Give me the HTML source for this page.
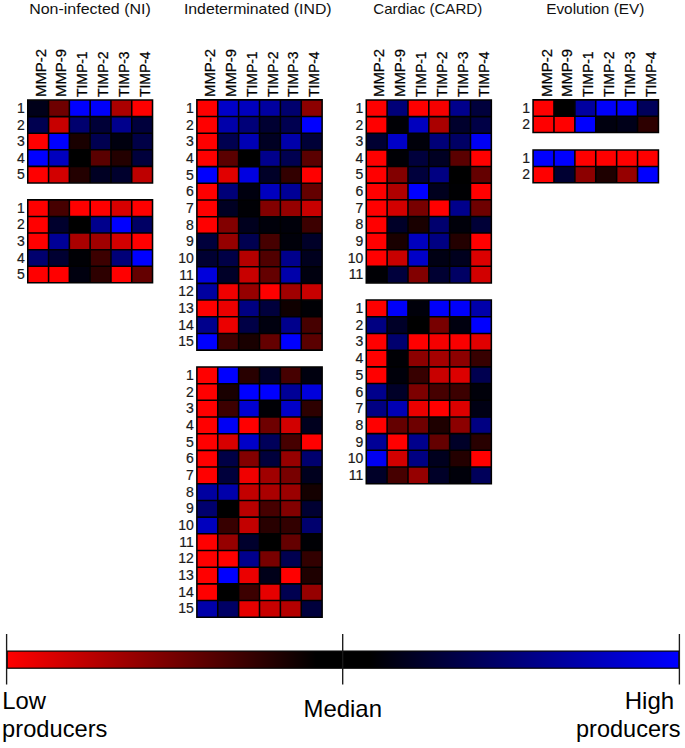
<!DOCTYPE html>
<html><head><meta charset="utf-8"><title>Heatmap</title>
<style>html,body{margin:0;padding:0;background:#fff;}svg{display:block;}</style>
</head><body>
<svg width="685" height="748" viewBox="0 0 685 748" font-family="Liberation Sans, sans-serif">
<rect width="685" height="748" fill="#fff"/>
<rect x="27.77" y="100.08" width="20.79" height="16.57" fill="#000019"/>
<rect x="48.57" y="100.08" width="20.79" height="16.57" fill="#6e0000"/>
<rect x="69.36" y="100.08" width="20.79" height="16.57" fill="#0000ff"/>
<rect x="90.15" y="100.08" width="20.79" height="16.57" fill="#0000fa"/>
<rect x="110.94" y="100.08" width="20.79" height="16.57" fill="#aa0000"/>
<rect x="131.73" y="100.08" width="20.79" height="16.57" fill="#ff0000"/>
<rect x="27.77" y="116.64" width="20.79" height="16.57" fill="#000050"/>
<rect x="48.57" y="116.64" width="20.79" height="16.57" fill="#c80000"/>
<rect x="69.36" y="116.64" width="20.79" height="16.57" fill="#00006e"/>
<rect x="90.15" y="116.64" width="20.79" height="16.57" fill="#000037"/>
<rect x="110.94" y="116.64" width="20.79" height="16.57" fill="#00008c"/>
<rect x="131.73" y="116.64" width="20.79" height="16.57" fill="#00003c"/>
<rect x="27.77" y="133.22" width="20.79" height="16.57" fill="#ff0000"/>
<rect x="48.57" y="133.22" width="20.79" height="16.57" fill="#0000ff"/>
<rect x="69.36" y="133.22" width="20.79" height="16.57" fill="#190000"/>
<rect x="90.15" y="133.22" width="20.79" height="16.57" fill="#000050"/>
<rect x="110.94" y="133.22" width="20.79" height="16.57" fill="#00000f"/>
<rect x="131.73" y="133.22" width="20.79" height="16.57" fill="#000046"/>
<rect x="27.77" y="149.78" width="20.79" height="16.57" fill="#0000ff"/>
<rect x="48.57" y="149.78" width="20.79" height="16.57" fill="#0000be"/>
<rect x="69.36" y="149.78" width="20.79" height="16.57" fill="#000000"/>
<rect x="90.15" y="149.78" width="20.79" height="16.57" fill="#5a0000"/>
<rect x="110.94" y="149.78" width="20.79" height="16.57" fill="#230000"/>
<rect x="131.73" y="149.78" width="20.79" height="16.57" fill="#00003c"/>
<rect x="27.77" y="166.35" width="20.79" height="16.57" fill="#ff0000"/>
<rect x="48.57" y="166.35" width="20.79" height="16.57" fill="#d20000"/>
<rect x="69.36" y="166.35" width="20.79" height="16.57" fill="#230000"/>
<rect x="90.15" y="166.35" width="20.79" height="16.57" fill="#000023"/>
<rect x="110.94" y="166.35" width="20.79" height="16.57" fill="#00002d"/>
<rect x="131.73" y="166.35" width="20.79" height="16.57" fill="#be0000"/>
<path d="M27.77 99.30V183.70M48.57 99.30V183.70M69.36 99.30V183.70M90.15 99.30V183.70M110.94 99.30V183.70M131.73 99.30V183.70M152.53 99.30V183.70M27.00 100.08H153.30M27.00 116.64H153.30M27.00 133.22H153.30M27.00 149.78H153.30M27.00 166.35H153.30M27.00 182.92H153.30" stroke="#000" stroke-width="1.55" fill="none"/>
<text x="24.80" y="112.96" text-anchor="end" font-size="14" font-family="Liberation Sans, sans-serif" fill="#1a1a1a" stroke="#1a1a1a" stroke-width="0.2">1</text>
<text x="24.80" y="129.53" text-anchor="end" font-size="14" font-family="Liberation Sans, sans-serif" fill="#1a1a1a" stroke="#1a1a1a" stroke-width="0.2">2</text>
<text x="24.80" y="146.10" text-anchor="end" font-size="14" font-family="Liberation Sans, sans-serif" fill="#1a1a1a" stroke="#1a1a1a" stroke-width="0.2">3</text>
<text x="24.80" y="162.67" text-anchor="end" font-size="14" font-family="Liberation Sans, sans-serif" fill="#1a1a1a" stroke="#1a1a1a" stroke-width="0.2">4</text>
<text x="24.80" y="179.24" text-anchor="end" font-size="14" font-family="Liberation Sans, sans-serif" fill="#1a1a1a" stroke="#1a1a1a" stroke-width="0.2">5</text>
<rect x="27.77" y="199.88" width="20.79" height="16.59" fill="#ff0000"/>
<rect x="48.57" y="199.88" width="20.79" height="16.59" fill="#460000"/>
<rect x="69.36" y="199.88" width="20.79" height="16.59" fill="#ff0000"/>
<rect x="90.15" y="199.88" width="20.79" height="16.59" fill="#ff0000"/>
<rect x="110.94" y="199.88" width="20.79" height="16.59" fill="#d70000"/>
<rect x="131.73" y="199.88" width="20.79" height="16.59" fill="#ff0000"/>
<rect x="27.77" y="216.47" width="20.79" height="16.59" fill="#ff0000"/>
<rect x="48.57" y="216.47" width="20.79" height="16.59" fill="#00002d"/>
<rect x="69.36" y="216.47" width="20.79" height="16.59" fill="#000000"/>
<rect x="90.15" y="216.47" width="20.79" height="16.59" fill="#00008c"/>
<rect x="110.94" y="216.47" width="20.79" height="16.59" fill="#0000ff"/>
<rect x="131.73" y="216.47" width="20.79" height="16.59" fill="#000064"/>
<rect x="27.77" y="233.06" width="20.79" height="16.59" fill="#ff0000"/>
<rect x="48.57" y="233.06" width="20.79" height="16.59" fill="#000096"/>
<rect x="69.36" y="233.06" width="20.79" height="16.59" fill="#aa0000"/>
<rect x="90.15" y="233.06" width="20.79" height="16.59" fill="#a00000"/>
<rect x="110.94" y="233.06" width="20.79" height="16.59" fill="#d20000"/>
<rect x="131.73" y="233.06" width="20.79" height="16.59" fill="#ff0000"/>
<rect x="27.77" y="249.65" width="20.79" height="16.59" fill="#00006e"/>
<rect x="48.57" y="249.65" width="20.79" height="16.59" fill="#000032"/>
<rect x="69.36" y="249.65" width="20.79" height="16.59" fill="#000005"/>
<rect x="90.15" y="249.65" width="20.79" height="16.59" fill="#3c0000"/>
<rect x="110.94" y="249.65" width="20.79" height="16.59" fill="#000078"/>
<rect x="131.73" y="249.65" width="20.79" height="16.59" fill="#0000ff"/>
<rect x="27.77" y="266.24" width="20.79" height="16.59" fill="#ff0000"/>
<rect x="48.57" y="266.24" width="20.79" height="16.59" fill="#ff0000"/>
<rect x="69.36" y="266.24" width="20.79" height="16.59" fill="#00000f"/>
<rect x="90.15" y="266.24" width="20.79" height="16.59" fill="#2d0000"/>
<rect x="110.94" y="266.24" width="20.79" height="16.59" fill="#ff0000"/>
<rect x="131.73" y="266.24" width="20.79" height="16.59" fill="#640000"/>
<path d="M27.77 199.10V283.60M48.57 199.10V283.60M69.36 199.10V283.60M90.15 199.10V283.60M110.94 199.10V283.60M131.73 199.10V283.60M152.53 199.10V283.60M27.00 199.88H153.30M27.00 216.47H153.30M27.00 233.06H153.30M27.00 249.65H153.30M27.00 266.24H153.30M27.00 282.83H153.30" stroke="#000" stroke-width="1.55" fill="none"/>
<text x="24.80" y="212.77" text-anchor="end" font-size="14" font-family="Liberation Sans, sans-serif" fill="#1a1a1a" stroke="#1a1a1a" stroke-width="0.2">1</text>
<text x="24.80" y="229.36" text-anchor="end" font-size="14" font-family="Liberation Sans, sans-serif" fill="#1a1a1a" stroke="#1a1a1a" stroke-width="0.2">2</text>
<text x="24.80" y="245.95" text-anchor="end" font-size="14" font-family="Liberation Sans, sans-serif" fill="#1a1a1a" stroke="#1a1a1a" stroke-width="0.2">3</text>
<text x="24.80" y="262.54" text-anchor="end" font-size="14" font-family="Liberation Sans, sans-serif" fill="#1a1a1a" stroke="#1a1a1a" stroke-width="0.2">4</text>
<text x="24.80" y="279.13" text-anchor="end" font-size="14" font-family="Liberation Sans, sans-serif" fill="#1a1a1a" stroke="#1a1a1a" stroke-width="0.2">5</text>
<rect x="196.88" y="99.88" width="20.88" height="16.68" fill="#ff0000"/>
<rect x="217.75" y="99.88" width="20.88" height="16.68" fill="#0000c8"/>
<rect x="238.62" y="99.88" width="20.88" height="16.68" fill="#0000be"/>
<rect x="259.50" y="99.88" width="20.88" height="16.68" fill="#0000a0"/>
<rect x="280.38" y="99.88" width="20.88" height="16.68" fill="#00006e"/>
<rect x="301.25" y="99.88" width="20.88" height="16.68" fill="#8c0000"/>
<rect x="196.88" y="116.56" width="20.88" height="16.68" fill="#ff0000"/>
<rect x="217.75" y="116.56" width="20.88" height="16.68" fill="#0000aa"/>
<rect x="238.62" y="116.56" width="20.88" height="16.68" fill="#000078"/>
<rect x="259.50" y="116.56" width="20.88" height="16.68" fill="#000032"/>
<rect x="280.38" y="116.56" width="20.88" height="16.68" fill="#000050"/>
<rect x="301.25" y="116.56" width="20.88" height="16.68" fill="#0000ff"/>
<rect x="196.88" y="133.24" width="20.88" height="16.68" fill="#ff0000"/>
<rect x="217.75" y="133.24" width="20.88" height="16.68" fill="#000050"/>
<rect x="238.62" y="133.24" width="20.88" height="16.68" fill="#0000b4"/>
<rect x="259.50" y="133.24" width="20.88" height="16.68" fill="#000023"/>
<rect x="280.38" y="133.24" width="20.88" height="16.68" fill="#0000aa"/>
<rect x="301.25" y="133.24" width="20.88" height="16.68" fill="#000037"/>
<rect x="196.88" y="149.93" width="20.88" height="16.68" fill="#ff0000"/>
<rect x="217.75" y="149.93" width="20.88" height="16.68" fill="#5a0000"/>
<rect x="238.62" y="149.93" width="20.88" height="16.68" fill="#000000"/>
<rect x="259.50" y="149.93" width="20.88" height="16.68" fill="#00008c"/>
<rect x="280.38" y="149.93" width="20.88" height="16.68" fill="#000050"/>
<rect x="301.25" y="149.93" width="20.88" height="16.68" fill="#5a0000"/>
<rect x="196.88" y="166.61" width="20.88" height="16.68" fill="#0000ff"/>
<rect x="217.75" y="166.61" width="20.88" height="16.68" fill="#e10000"/>
<rect x="238.62" y="166.61" width="20.88" height="16.68" fill="#0000e1"/>
<rect x="259.50" y="166.61" width="20.88" height="16.68" fill="#000028"/>
<rect x="280.38" y="166.61" width="20.88" height="16.68" fill="#320000"/>
<rect x="301.25" y="166.61" width="20.88" height="16.68" fill="#ff0000"/>
<rect x="196.88" y="183.29" width="20.88" height="16.68" fill="#ff0000"/>
<rect x="217.75" y="183.29" width="20.88" height="16.68" fill="#000078"/>
<rect x="238.62" y="183.29" width="20.88" height="16.68" fill="#00000f"/>
<rect x="259.50" y="183.29" width="20.88" height="16.68" fill="#0000be"/>
<rect x="280.38" y="183.29" width="20.88" height="16.68" fill="#000096"/>
<rect x="301.25" y="183.29" width="20.88" height="16.68" fill="#640000"/>
<rect x="196.88" y="199.97" width="20.88" height="16.68" fill="#ff0000"/>
<rect x="217.75" y="199.97" width="20.88" height="16.68" fill="#000023"/>
<rect x="238.62" y="199.97" width="20.88" height="16.68" fill="#000005"/>
<rect x="259.50" y="199.97" width="20.88" height="16.68" fill="#820000"/>
<rect x="280.38" y="199.97" width="20.88" height="16.68" fill="#960000"/>
<rect x="301.25" y="199.97" width="20.88" height="16.68" fill="#c80000"/>
<rect x="196.88" y="216.66" width="20.88" height="16.68" fill="#ff0000"/>
<rect x="217.75" y="216.66" width="20.88" height="16.68" fill="#820000"/>
<rect x="238.62" y="216.66" width="20.88" height="16.68" fill="#00001e"/>
<rect x="259.50" y="216.66" width="20.88" height="16.68" fill="#00000a"/>
<rect x="280.38" y="216.66" width="20.88" height="16.68" fill="#00000a"/>
<rect x="301.25" y="216.66" width="20.88" height="16.68" fill="#3c0000"/>
<rect x="196.88" y="233.34" width="20.88" height="16.68" fill="#00003c"/>
<rect x="217.75" y="233.34" width="20.88" height="16.68" fill="#960000"/>
<rect x="238.62" y="233.34" width="20.88" height="16.68" fill="#000050"/>
<rect x="259.50" y="233.34" width="20.88" height="16.68" fill="#460000"/>
<rect x="280.38" y="233.34" width="20.88" height="16.68" fill="#00000a"/>
<rect x="301.25" y="233.34" width="20.88" height="16.68" fill="#000028"/>
<rect x="196.88" y="250.03" width="20.88" height="16.68" fill="#000032"/>
<rect x="217.75" y="250.03" width="20.88" height="16.68" fill="#000046"/>
<rect x="238.62" y="250.03" width="20.88" height="16.68" fill="#b40000"/>
<rect x="259.50" y="250.03" width="20.88" height="16.68" fill="#500000"/>
<rect x="280.38" y="250.03" width="20.88" height="16.68" fill="#00008c"/>
<rect x="301.25" y="250.03" width="20.88" height="16.68" fill="#00001e"/>
<rect x="196.88" y="266.71" width="20.88" height="16.68" fill="#0000dc"/>
<rect x="217.75" y="266.71" width="20.88" height="16.68" fill="#000028"/>
<rect x="238.62" y="266.71" width="20.88" height="16.68" fill="#c80000"/>
<rect x="259.50" y="266.71" width="20.88" height="16.68" fill="#640000"/>
<rect x="280.38" y="266.71" width="20.88" height="16.68" fill="#0000aa"/>
<rect x="301.25" y="266.71" width="20.88" height="16.68" fill="#00000f"/>
<rect x="196.88" y="283.39" width="20.88" height="16.68" fill="#0000a0"/>
<rect x="217.75" y="283.39" width="20.88" height="16.68" fill="#f00000"/>
<rect x="238.62" y="283.39" width="20.88" height="16.68" fill="#960000"/>
<rect x="259.50" y="283.39" width="20.88" height="16.68" fill="#ff0000"/>
<rect x="280.38" y="283.39" width="20.88" height="16.68" fill="#a00000"/>
<rect x="301.25" y="283.39" width="20.88" height="16.68" fill="#c80000"/>
<rect x="196.88" y="300.07" width="20.88" height="16.68" fill="#ff0000"/>
<rect x="217.75" y="300.07" width="20.88" height="16.68" fill="#eb0000"/>
<rect x="238.62" y="300.07" width="20.88" height="16.68" fill="#000082"/>
<rect x="259.50" y="300.07" width="20.88" height="16.68" fill="#00003c"/>
<rect x="280.38" y="300.07" width="20.88" height="16.68" fill="#0f0000"/>
<rect x="301.25" y="300.07" width="20.88" height="16.68" fill="#000005"/>
<rect x="196.88" y="316.76" width="20.88" height="16.68" fill="#00008c"/>
<rect x="217.75" y="316.76" width="20.88" height="16.68" fill="#eb0000"/>
<rect x="238.62" y="316.76" width="20.88" height="16.68" fill="#000046"/>
<rect x="259.50" y="316.76" width="20.88" height="16.68" fill="#00000f"/>
<rect x="280.38" y="316.76" width="20.88" height="16.68" fill="#00008c"/>
<rect x="301.25" y="316.76" width="20.88" height="16.68" fill="#460000"/>
<rect x="196.88" y="333.44" width="20.88" height="16.68" fill="#0000ff"/>
<rect x="217.75" y="333.44" width="20.88" height="16.68" fill="#3c0000"/>
<rect x="238.62" y="333.44" width="20.88" height="16.68" fill="#190000"/>
<rect x="259.50" y="333.44" width="20.88" height="16.68" fill="#640000"/>
<rect x="280.38" y="333.44" width="20.88" height="16.68" fill="#0000ff"/>
<rect x="301.25" y="333.44" width="20.88" height="16.68" fill="#5a0000"/>
<path d="M196.88 99.10V350.90M217.75 99.10V350.90M238.62 99.10V350.90M259.50 99.10V350.90M280.38 99.10V350.90M301.25 99.10V350.90M322.12 99.10V350.90M196.10 99.88H322.90M196.10 116.56H322.90M196.10 133.24H322.90M196.10 149.93H322.90M196.10 166.61H322.90M196.10 183.29H322.90M196.10 199.97H322.90M196.10 216.66H322.90M196.10 233.34H322.90M196.10 250.03H322.90M196.10 266.71H322.90M196.10 283.39H322.90M196.10 300.07H322.90M196.10 316.76H322.90M196.10 333.44H322.90M196.10 350.12H322.90" stroke="#000" stroke-width="1.55" fill="none"/>
<text x="193.90" y="112.82" text-anchor="end" font-size="14" font-family="Liberation Sans, sans-serif" fill="#1a1a1a" stroke="#1a1a1a" stroke-width="0.2">1</text>
<text x="193.90" y="129.50" text-anchor="end" font-size="14" font-family="Liberation Sans, sans-serif" fill="#1a1a1a" stroke="#1a1a1a" stroke-width="0.2">2</text>
<text x="193.90" y="146.18" text-anchor="end" font-size="14" font-family="Liberation Sans, sans-serif" fill="#1a1a1a" stroke="#1a1a1a" stroke-width="0.2">3</text>
<text x="193.90" y="162.87" text-anchor="end" font-size="14" font-family="Liberation Sans, sans-serif" fill="#1a1a1a" stroke="#1a1a1a" stroke-width="0.2">4</text>
<text x="193.90" y="179.55" text-anchor="end" font-size="14" font-family="Liberation Sans, sans-serif" fill="#1a1a1a" stroke="#1a1a1a" stroke-width="0.2">5</text>
<text x="193.90" y="196.23" text-anchor="end" font-size="14" font-family="Liberation Sans, sans-serif" fill="#1a1a1a" stroke="#1a1a1a" stroke-width="0.2">6</text>
<text x="193.90" y="212.92" text-anchor="end" font-size="14" font-family="Liberation Sans, sans-serif" fill="#1a1a1a" stroke="#1a1a1a" stroke-width="0.2">7</text>
<text x="193.90" y="229.60" text-anchor="end" font-size="14" font-family="Liberation Sans, sans-serif" fill="#1a1a1a" stroke="#1a1a1a" stroke-width="0.2">8</text>
<text x="193.90" y="246.28" text-anchor="end" font-size="14" font-family="Liberation Sans, sans-serif" fill="#1a1a1a" stroke="#1a1a1a" stroke-width="0.2">9</text>
<text x="193.90" y="262.97" text-anchor="end" font-size="14" font-family="Liberation Sans, sans-serif" fill="#1a1a1a" stroke="#1a1a1a" stroke-width="0.2">10</text>
<text x="193.90" y="279.65" text-anchor="end" font-size="14" font-family="Liberation Sans, sans-serif" fill="#1a1a1a" stroke="#1a1a1a" stroke-width="0.2">11</text>
<text x="193.90" y="296.33" text-anchor="end" font-size="14" font-family="Liberation Sans, sans-serif" fill="#1a1a1a" stroke="#1a1a1a" stroke-width="0.2">12</text>
<text x="193.90" y="313.02" text-anchor="end" font-size="14" font-family="Liberation Sans, sans-serif" fill="#1a1a1a" stroke="#1a1a1a" stroke-width="0.2">13</text>
<text x="193.90" y="329.70" text-anchor="end" font-size="14" font-family="Liberation Sans, sans-serif" fill="#1a1a1a" stroke="#1a1a1a" stroke-width="0.2">14</text>
<text x="193.90" y="346.38" text-anchor="end" font-size="14" font-family="Liberation Sans, sans-serif" fill="#1a1a1a" stroke="#1a1a1a" stroke-width="0.2">15</text>
<rect x="196.88" y="366.97" width="20.88" height="16.68" fill="#ff0000"/>
<rect x="217.75" y="366.97" width="20.88" height="16.68" fill="#0000ff"/>
<rect x="238.62" y="366.97" width="20.88" height="16.68" fill="#280000"/>
<rect x="259.50" y="366.97" width="20.88" height="16.68" fill="#000028"/>
<rect x="280.38" y="366.97" width="20.88" height="16.68" fill="#460000"/>
<rect x="301.25" y="366.97" width="20.88" height="16.68" fill="#00000f"/>
<rect x="196.88" y="383.66" width="20.88" height="16.68" fill="#ff0000"/>
<rect x="217.75" y="383.66" width="20.88" height="16.68" fill="#190000"/>
<rect x="238.62" y="383.66" width="20.88" height="16.68" fill="#0000ff"/>
<rect x="259.50" y="383.66" width="20.88" height="16.68" fill="#0000ff"/>
<rect x="280.38" y="383.66" width="20.88" height="16.68" fill="#000096"/>
<rect x="301.25" y="383.66" width="20.88" height="16.68" fill="#0000dc"/>
<rect x="196.88" y="400.34" width="20.88" height="16.68" fill="#ff0000"/>
<rect x="217.75" y="400.34" width="20.88" height="16.68" fill="#3c0000"/>
<rect x="238.62" y="400.34" width="20.88" height="16.68" fill="#0000d2"/>
<rect x="259.50" y="400.34" width="20.88" height="16.68" fill="#000005"/>
<rect x="280.38" y="400.34" width="20.88" height="16.68" fill="#0000c8"/>
<rect x="301.25" y="400.34" width="20.88" height="16.68" fill="#2d0000"/>
<rect x="196.88" y="417.02" width="20.88" height="16.68" fill="#ff0000"/>
<rect x="217.75" y="417.02" width="20.88" height="16.68" fill="#0000f5"/>
<rect x="238.62" y="417.02" width="20.88" height="16.68" fill="#ff0000"/>
<rect x="259.50" y="417.02" width="20.88" height="16.68" fill="#6e0000"/>
<rect x="280.38" y="417.02" width="20.88" height="16.68" fill="#d20000"/>
<rect x="301.25" y="417.02" width="20.88" height="16.68" fill="#00001e"/>
<rect x="196.88" y="433.71" width="20.88" height="16.68" fill="#ff0000"/>
<rect x="217.75" y="433.71" width="20.88" height="16.68" fill="#d70000"/>
<rect x="238.62" y="433.71" width="20.88" height="16.68" fill="#0000c8"/>
<rect x="259.50" y="433.71" width="20.88" height="16.68" fill="#00005a"/>
<rect x="280.38" y="433.71" width="20.88" height="16.68" fill="#460000"/>
<rect x="301.25" y="433.71" width="20.88" height="16.68" fill="#ff0000"/>
<rect x="196.88" y="450.39" width="20.88" height="16.68" fill="#ff0000"/>
<rect x="217.75" y="450.39" width="20.88" height="16.68" fill="#000046"/>
<rect x="238.62" y="450.39" width="20.88" height="16.68" fill="#820000"/>
<rect x="259.50" y="450.39" width="20.88" height="16.68" fill="#00003c"/>
<rect x="280.38" y="450.39" width="20.88" height="16.68" fill="#960000"/>
<rect x="301.25" y="450.39" width="20.88" height="16.68" fill="#00006e"/>
<rect x="196.88" y="467.07" width="20.88" height="16.68" fill="#ff0000"/>
<rect x="217.75" y="467.07" width="20.88" height="16.68" fill="#00003c"/>
<rect x="238.62" y="467.07" width="20.88" height="16.68" fill="#f00000"/>
<rect x="259.50" y="467.07" width="20.88" height="16.68" fill="#a00000"/>
<rect x="280.38" y="467.07" width="20.88" height="16.68" fill="#780000"/>
<rect x="301.25" y="467.07" width="20.88" height="16.68" fill="#00001e"/>
<rect x="196.88" y="483.76" width="20.88" height="16.68" fill="#0000a0"/>
<rect x="217.75" y="483.76" width="20.88" height="16.68" fill="#0000aa"/>
<rect x="238.62" y="483.76" width="20.88" height="16.68" fill="#c30000"/>
<rect x="259.50" y="483.76" width="20.88" height="16.68" fill="#aa0000"/>
<rect x="280.38" y="483.76" width="20.88" height="16.68" fill="#9b0000"/>
<rect x="301.25" y="483.76" width="20.88" height="16.68" fill="#140000"/>
<rect x="196.88" y="500.44" width="20.88" height="16.68" fill="#00006e"/>
<rect x="217.75" y="500.44" width="20.88" height="16.68" fill="#000000"/>
<rect x="238.62" y="500.44" width="20.88" height="16.68" fill="#b90000"/>
<rect x="259.50" y="500.44" width="20.88" height="16.68" fill="#460000"/>
<rect x="280.38" y="500.44" width="20.88" height="16.68" fill="#820000"/>
<rect x="301.25" y="500.44" width="20.88" height="16.68" fill="#000032"/>
<rect x="196.88" y="517.12" width="20.88" height="16.68" fill="#0000be"/>
<rect x="217.75" y="517.12" width="20.88" height="16.68" fill="#370000"/>
<rect x="238.62" y="517.12" width="20.88" height="16.68" fill="#c30000"/>
<rect x="259.50" y="517.12" width="20.88" height="16.68" fill="#280000"/>
<rect x="280.38" y="517.12" width="20.88" height="16.68" fill="#320000"/>
<rect x="301.25" y="517.12" width="20.88" height="16.68" fill="#00006e"/>
<rect x="196.88" y="533.81" width="20.88" height="16.68" fill="#ff0000"/>
<rect x="217.75" y="533.81" width="20.88" height="16.68" fill="#960000"/>
<rect x="238.62" y="533.81" width="20.88" height="16.68" fill="#00002d"/>
<rect x="259.50" y="533.81" width="20.88" height="16.68" fill="#000000"/>
<rect x="280.38" y="533.81" width="20.88" height="16.68" fill="#640000"/>
<rect x="301.25" y="533.81" width="20.88" height="16.68" fill="#000005"/>
<rect x="196.88" y="550.49" width="20.88" height="16.68" fill="#ff0000"/>
<rect x="217.75" y="550.49" width="20.88" height="16.68" fill="#ff0000"/>
<rect x="238.62" y="550.49" width="20.88" height="16.68" fill="#00008c"/>
<rect x="259.50" y="550.49" width="20.88" height="16.68" fill="#780000"/>
<rect x="280.38" y="550.49" width="20.88" height="16.68" fill="#000050"/>
<rect x="301.25" y="550.49" width="20.88" height="16.68" fill="#320000"/>
<rect x="196.88" y="567.17" width="20.88" height="16.68" fill="#ff0000"/>
<rect x="217.75" y="567.17" width="20.88" height="16.68" fill="#0000ff"/>
<rect x="238.62" y="567.17" width="20.88" height="16.68" fill="#eb0000"/>
<rect x="259.50" y="567.17" width="20.88" height="16.68" fill="#000019"/>
<rect x="280.38" y="567.17" width="20.88" height="16.68" fill="#ff0000"/>
<rect x="301.25" y="567.17" width="20.88" height="16.68" fill="#1e0000"/>
<rect x="196.88" y="583.86" width="20.88" height="16.68" fill="#ff0000"/>
<rect x="217.75" y="583.86" width="20.88" height="16.68" fill="#000000"/>
<rect x="238.62" y="583.86" width="20.88" height="16.68" fill="#3c0000"/>
<rect x="259.50" y="583.86" width="20.88" height="16.68" fill="#e60000"/>
<rect x="280.38" y="583.86" width="20.88" height="16.68" fill="#000050"/>
<rect x="301.25" y="583.86" width="20.88" height="16.68" fill="#960000"/>
<rect x="196.88" y="600.54" width="20.88" height="16.68" fill="#0000aa"/>
<rect x="217.75" y="600.54" width="20.88" height="16.68" fill="#000064"/>
<rect x="238.62" y="600.54" width="20.88" height="16.68" fill="#e60000"/>
<rect x="259.50" y="600.54" width="20.88" height="16.68" fill="#c80000"/>
<rect x="280.38" y="600.54" width="20.88" height="16.68" fill="#b40000"/>
<rect x="301.25" y="600.54" width="20.88" height="16.68" fill="#00003c"/>
<path d="M196.88 366.20V618.00M217.75 366.20V618.00M238.62 366.20V618.00M259.50 366.20V618.00M280.38 366.20V618.00M301.25 366.20V618.00M322.12 366.20V618.00M196.10 366.97H322.90M196.10 383.66H322.90M196.10 400.34H322.90M196.10 417.02H322.90M196.10 433.71H322.90M196.10 450.39H322.90M196.10 467.07H322.90M196.10 483.76H322.90M196.10 500.44H322.90M196.10 517.12H322.90M196.10 533.81H322.90M196.10 550.49H322.90M196.10 567.17H322.90M196.10 583.86H322.90M196.10 600.54H322.90M196.10 617.23H322.90" stroke="#000" stroke-width="1.55" fill="none"/>
<text x="193.90" y="379.92" text-anchor="end" font-size="14" font-family="Liberation Sans, sans-serif" fill="#1a1a1a" stroke="#1a1a1a" stroke-width="0.2">1</text>
<text x="193.90" y="396.60" text-anchor="end" font-size="14" font-family="Liberation Sans, sans-serif" fill="#1a1a1a" stroke="#1a1a1a" stroke-width="0.2">2</text>
<text x="193.90" y="413.28" text-anchor="end" font-size="14" font-family="Liberation Sans, sans-serif" fill="#1a1a1a" stroke="#1a1a1a" stroke-width="0.2">3</text>
<text x="193.90" y="429.97" text-anchor="end" font-size="14" font-family="Liberation Sans, sans-serif" fill="#1a1a1a" stroke="#1a1a1a" stroke-width="0.2">4</text>
<text x="193.90" y="446.65" text-anchor="end" font-size="14" font-family="Liberation Sans, sans-serif" fill="#1a1a1a" stroke="#1a1a1a" stroke-width="0.2">5</text>
<text x="193.90" y="463.33" text-anchor="end" font-size="14" font-family="Liberation Sans, sans-serif" fill="#1a1a1a" stroke="#1a1a1a" stroke-width="0.2">6</text>
<text x="193.90" y="480.02" text-anchor="end" font-size="14" font-family="Liberation Sans, sans-serif" fill="#1a1a1a" stroke="#1a1a1a" stroke-width="0.2">7</text>
<text x="193.90" y="496.70" text-anchor="end" font-size="14" font-family="Liberation Sans, sans-serif" fill="#1a1a1a" stroke="#1a1a1a" stroke-width="0.2">8</text>
<text x="193.90" y="513.38" text-anchor="end" font-size="14" font-family="Liberation Sans, sans-serif" fill="#1a1a1a" stroke="#1a1a1a" stroke-width="0.2">9</text>
<text x="193.90" y="530.07" text-anchor="end" font-size="14" font-family="Liberation Sans, sans-serif" fill="#1a1a1a" stroke="#1a1a1a" stroke-width="0.2">10</text>
<text x="193.90" y="546.75" text-anchor="end" font-size="14" font-family="Liberation Sans, sans-serif" fill="#1a1a1a" stroke="#1a1a1a" stroke-width="0.2">11</text>
<text x="193.90" y="563.43" text-anchor="end" font-size="14" font-family="Liberation Sans, sans-serif" fill="#1a1a1a" stroke="#1a1a1a" stroke-width="0.2">12</text>
<text x="193.90" y="580.12" text-anchor="end" font-size="14" font-family="Liberation Sans, sans-serif" fill="#1a1a1a" stroke="#1a1a1a" stroke-width="0.2">13</text>
<text x="193.90" y="596.80" text-anchor="end" font-size="14" font-family="Liberation Sans, sans-serif" fill="#1a1a1a" stroke="#1a1a1a" stroke-width="0.2">14</text>
<text x="193.90" y="613.48" text-anchor="end" font-size="14" font-family="Liberation Sans, sans-serif" fill="#1a1a1a" stroke="#1a1a1a" stroke-width="0.2">15</text>
<rect x="366.27" y="99.98" width="20.84" height="16.63" fill="#ff0000"/>
<rect x="387.12" y="99.98" width="20.84" height="16.63" fill="#000078"/>
<rect x="407.96" y="99.98" width="20.84" height="16.63" fill="#ff0000"/>
<rect x="428.80" y="99.98" width="20.84" height="16.63" fill="#f50000"/>
<rect x="449.64" y="99.98" width="20.84" height="16.63" fill="#00008c"/>
<rect x="470.48" y="99.98" width="20.84" height="16.63" fill="#00003c"/>
<rect x="366.27" y="116.61" width="20.84" height="16.63" fill="#ff0000"/>
<rect x="387.12" y="116.61" width="20.84" height="16.63" fill="#000005"/>
<rect x="407.96" y="116.61" width="20.84" height="16.63" fill="#0000be"/>
<rect x="428.80" y="116.61" width="20.84" height="16.63" fill="#aa0000"/>
<rect x="449.64" y="116.61" width="20.84" height="16.63" fill="#00002d"/>
<rect x="470.48" y="116.61" width="20.84" height="16.63" fill="#000046"/>
<rect x="366.27" y="133.24" width="20.84" height="16.63" fill="#000032"/>
<rect x="387.12" y="133.24" width="20.84" height="16.63" fill="#0000c8"/>
<rect x="407.96" y="133.24" width="20.84" height="16.63" fill="#00000a"/>
<rect x="428.80" y="133.24" width="20.84" height="16.63" fill="#000078"/>
<rect x="449.64" y="133.24" width="20.84" height="16.63" fill="#000064"/>
<rect x="470.48" y="133.24" width="20.84" height="16.63" fill="#0000f5"/>
<rect x="366.27" y="149.87" width="20.84" height="16.63" fill="#ff0000"/>
<rect x="387.12" y="149.87" width="20.84" height="16.63" fill="#000005"/>
<rect x="407.96" y="149.87" width="20.84" height="16.63" fill="#00003c"/>
<rect x="428.80" y="149.87" width="20.84" height="16.63" fill="#000023"/>
<rect x="449.64" y="149.87" width="20.84" height="16.63" fill="#5a0000"/>
<rect x="470.48" y="149.87" width="20.84" height="16.63" fill="#ff0000"/>
<rect x="366.27" y="166.50" width="20.84" height="16.63" fill="#ff0000"/>
<rect x="387.12" y="166.50" width="20.84" height="16.63" fill="#820000"/>
<rect x="407.96" y="166.50" width="20.84" height="16.63" fill="#00003c"/>
<rect x="428.80" y="166.50" width="20.84" height="16.63" fill="#000082"/>
<rect x="449.64" y="166.50" width="20.84" height="16.63" fill="#000000"/>
<rect x="470.48" y="166.50" width="20.84" height="16.63" fill="#640000"/>
<rect x="366.27" y="183.13" width="20.84" height="16.63" fill="#ff0000"/>
<rect x="387.12" y="183.13" width="20.84" height="16.63" fill="#af0000"/>
<rect x="407.96" y="183.13" width="20.84" height="16.63" fill="#0000ff"/>
<rect x="428.80" y="183.13" width="20.84" height="16.63" fill="#00001e"/>
<rect x="449.64" y="183.13" width="20.84" height="16.63" fill="#000003"/>
<rect x="470.48" y="183.13" width="20.84" height="16.63" fill="#ff0000"/>
<rect x="366.27" y="199.77" width="20.84" height="16.63" fill="#ff0000"/>
<rect x="387.12" y="199.77" width="20.84" height="16.63" fill="#d20000"/>
<rect x="407.96" y="199.77" width="20.84" height="16.63" fill="#780000"/>
<rect x="428.80" y="199.77" width="20.84" height="16.63" fill="#ff0000"/>
<rect x="449.64" y="199.77" width="20.84" height="16.63" fill="#00008c"/>
<rect x="470.48" y="199.77" width="20.84" height="16.63" fill="#6e0000"/>
<rect x="366.27" y="216.40" width="20.84" height="16.63" fill="#ff0000"/>
<rect x="387.12" y="216.40" width="20.84" height="16.63" fill="#000028"/>
<rect x="407.96" y="216.40" width="20.84" height="16.63" fill="#190000"/>
<rect x="428.80" y="216.40" width="20.84" height="16.63" fill="#00006e"/>
<rect x="449.64" y="216.40" width="20.84" height="16.63" fill="#00000a"/>
<rect x="470.48" y="216.40" width="20.84" height="16.63" fill="#000037"/>
<rect x="366.27" y="233.03" width="20.84" height="16.63" fill="#ff0000"/>
<rect x="387.12" y="233.03" width="20.84" height="16.63" fill="#190000"/>
<rect x="407.96" y="233.03" width="20.84" height="16.63" fill="#0000be"/>
<rect x="428.80" y="233.03" width="20.84" height="16.63" fill="#000082"/>
<rect x="449.64" y="233.03" width="20.84" height="16.63" fill="#230000"/>
<rect x="470.48" y="233.03" width="20.84" height="16.63" fill="#ff0000"/>
<rect x="366.27" y="249.66" width="20.84" height="16.63" fill="#ff0000"/>
<rect x="387.12" y="249.66" width="20.84" height="16.63" fill="#c80000"/>
<rect x="407.96" y="249.66" width="20.84" height="16.63" fill="#0000c8"/>
<rect x="428.80" y="249.66" width="20.84" height="16.63" fill="#000014"/>
<rect x="449.64" y="249.66" width="20.84" height="16.63" fill="#00001e"/>
<rect x="470.48" y="249.66" width="20.84" height="16.63" fill="#dc0000"/>
<rect x="366.27" y="266.29" width="20.84" height="16.63" fill="#000005"/>
<rect x="387.12" y="266.29" width="20.84" height="16.63" fill="#00003c"/>
<rect x="407.96" y="266.29" width="20.84" height="16.63" fill="#820000"/>
<rect x="428.80" y="266.29" width="20.84" height="16.63" fill="#000032"/>
<rect x="449.64" y="266.29" width="20.84" height="16.63" fill="#000064"/>
<rect x="470.48" y="266.29" width="20.84" height="16.63" fill="#d20000"/>
<path d="M366.27 99.20V283.70M387.12 99.20V283.70M407.96 99.20V283.70M428.80 99.20V283.70M449.64 99.20V283.70M470.48 99.20V283.70M491.33 99.20V283.70M365.50 99.98H492.10M365.50 116.61H492.10M365.50 133.24H492.10M365.50 149.87H492.10M365.50 166.50H492.10M365.50 183.13H492.10M365.50 199.77H492.10M365.50 216.40H492.10M365.50 233.03H492.10M365.50 249.66H492.10M365.50 266.29H492.10M365.50 282.92H492.10" stroke="#000" stroke-width="1.55" fill="none"/>
<text x="363.30" y="112.89" text-anchor="end" font-size="14" font-family="Liberation Sans, sans-serif" fill="#1a1a1a" stroke="#1a1a1a" stroke-width="0.2">1</text>
<text x="363.30" y="129.52" text-anchor="end" font-size="14" font-family="Liberation Sans, sans-serif" fill="#1a1a1a" stroke="#1a1a1a" stroke-width="0.2">2</text>
<text x="363.30" y="146.15" text-anchor="end" font-size="14" font-family="Liberation Sans, sans-serif" fill="#1a1a1a" stroke="#1a1a1a" stroke-width="0.2">3</text>
<text x="363.30" y="162.79" text-anchor="end" font-size="14" font-family="Liberation Sans, sans-serif" fill="#1a1a1a" stroke="#1a1a1a" stroke-width="0.2">4</text>
<text x="363.30" y="179.42" text-anchor="end" font-size="14" font-family="Liberation Sans, sans-serif" fill="#1a1a1a" stroke="#1a1a1a" stroke-width="0.2">5</text>
<text x="363.30" y="196.05" text-anchor="end" font-size="14" font-family="Liberation Sans, sans-serif" fill="#1a1a1a" stroke="#1a1a1a" stroke-width="0.2">6</text>
<text x="363.30" y="212.68" text-anchor="end" font-size="14" font-family="Liberation Sans, sans-serif" fill="#1a1a1a" stroke="#1a1a1a" stroke-width="0.2">7</text>
<text x="363.30" y="229.31" text-anchor="end" font-size="14" font-family="Liberation Sans, sans-serif" fill="#1a1a1a" stroke="#1a1a1a" stroke-width="0.2">8</text>
<text x="363.30" y="245.95" text-anchor="end" font-size="14" font-family="Liberation Sans, sans-serif" fill="#1a1a1a" stroke="#1a1a1a" stroke-width="0.2">9</text>
<text x="363.30" y="262.58" text-anchor="end" font-size="14" font-family="Liberation Sans, sans-serif" fill="#1a1a1a" stroke="#1a1a1a" stroke-width="0.2">10</text>
<text x="363.30" y="279.21" text-anchor="end" font-size="14" font-family="Liberation Sans, sans-serif" fill="#1a1a1a" stroke="#1a1a1a" stroke-width="0.2">11</text>
<rect x="366.27" y="300.07" width="20.84" height="16.70" fill="#ff0000"/>
<rect x="387.12" y="300.07" width="20.84" height="16.70" fill="#0000fa"/>
<rect x="407.96" y="300.07" width="20.84" height="16.70" fill="#00000a"/>
<rect x="428.80" y="300.07" width="20.84" height="16.70" fill="#0000fa"/>
<rect x="449.64" y="300.07" width="20.84" height="16.70" fill="#0000fa"/>
<rect x="470.48" y="300.07" width="20.84" height="16.70" fill="#0000aa"/>
<rect x="366.27" y="316.77" width="20.84" height="16.70" fill="#000082"/>
<rect x="387.12" y="316.77" width="20.84" height="16.70" fill="#000028"/>
<rect x="407.96" y="316.77" width="20.84" height="16.70" fill="#000000"/>
<rect x="428.80" y="316.77" width="20.84" height="16.70" fill="#780000"/>
<rect x="449.64" y="316.77" width="20.84" height="16.70" fill="#00000f"/>
<rect x="470.48" y="316.77" width="20.84" height="16.70" fill="#0000ff"/>
<rect x="366.27" y="333.47" width="20.84" height="16.70" fill="#ff0000"/>
<rect x="387.12" y="333.47" width="20.84" height="16.70" fill="#00006e"/>
<rect x="407.96" y="333.47" width="20.84" height="16.70" fill="#ff0000"/>
<rect x="428.80" y="333.47" width="20.84" height="16.70" fill="#f50000"/>
<rect x="449.64" y="333.47" width="20.84" height="16.70" fill="#fa0000"/>
<rect x="470.48" y="333.47" width="20.84" height="16.70" fill="#e10000"/>
<rect x="366.27" y="350.16" width="20.84" height="16.70" fill="#ff0000"/>
<rect x="387.12" y="350.16" width="20.84" height="16.70" fill="#000005"/>
<rect x="407.96" y="350.16" width="20.84" height="16.70" fill="#8c0000"/>
<rect x="428.80" y="350.16" width="20.84" height="16.70" fill="#a50000"/>
<rect x="449.64" y="350.16" width="20.84" height="16.70" fill="#8c0000"/>
<rect x="470.48" y="350.16" width="20.84" height="16.70" fill="#370000"/>
<rect x="366.27" y="366.86" width="20.84" height="16.70" fill="#ff0000"/>
<rect x="387.12" y="366.86" width="20.84" height="16.70" fill="#00000a"/>
<rect x="407.96" y="366.86" width="20.84" height="16.70" fill="#370000"/>
<rect x="428.80" y="366.86" width="20.84" height="16.70" fill="#c80000"/>
<rect x="449.64" y="366.86" width="20.84" height="16.70" fill="#dc0000"/>
<rect x="470.48" y="366.86" width="20.84" height="16.70" fill="#000050"/>
<rect x="366.27" y="383.55" width="20.84" height="16.70" fill="#00008c"/>
<rect x="387.12" y="383.55" width="20.84" height="16.70" fill="#000028"/>
<rect x="407.96" y="383.55" width="20.84" height="16.70" fill="#7d0000"/>
<rect x="428.80" y="383.55" width="20.84" height="16.70" fill="#460000"/>
<rect x="449.64" y="383.55" width="20.84" height="16.70" fill="#3c0000"/>
<rect x="470.48" y="383.55" width="20.84" height="16.70" fill="#00000a"/>
<rect x="366.27" y="400.25" width="20.84" height="16.70" fill="#000082"/>
<rect x="387.12" y="400.25" width="20.84" height="16.70" fill="#0000b4"/>
<rect x="407.96" y="400.25" width="20.84" height="16.70" fill="#eb0000"/>
<rect x="428.80" y="400.25" width="20.84" height="16.70" fill="#ff0000"/>
<rect x="449.64" y="400.25" width="20.84" height="16.70" fill="#dc0000"/>
<rect x="470.48" y="400.25" width="20.84" height="16.70" fill="#000014"/>
<rect x="366.27" y="416.94" width="20.84" height="16.70" fill="#ff0000"/>
<rect x="387.12" y="416.94" width="20.84" height="16.70" fill="#640000"/>
<rect x="407.96" y="416.94" width="20.84" height="16.70" fill="#6e0000"/>
<rect x="428.80" y="416.94" width="20.84" height="16.70" fill="#1e0000"/>
<rect x="449.64" y="416.94" width="20.84" height="16.70" fill="#8c0000"/>
<rect x="470.48" y="416.94" width="20.84" height="16.70" fill="#000082"/>
<rect x="366.27" y="433.64" width="20.84" height="16.70" fill="#000096"/>
<rect x="387.12" y="433.64" width="20.84" height="16.70" fill="#ff0000"/>
<rect x="407.96" y="433.64" width="20.84" height="16.70" fill="#00008c"/>
<rect x="428.80" y="433.64" width="20.84" height="16.70" fill="#640000"/>
<rect x="449.64" y="433.64" width="20.84" height="16.70" fill="#000028"/>
<rect x="470.48" y="433.64" width="20.84" height="16.70" fill="#280000"/>
<rect x="366.27" y="450.33" width="20.84" height="16.70" fill="#0000f0"/>
<rect x="387.12" y="450.33" width="20.84" height="16.70" fill="#d20000"/>
<rect x="407.96" y="450.33" width="20.84" height="16.70" fill="#000082"/>
<rect x="428.80" y="450.33" width="20.84" height="16.70" fill="#00001e"/>
<rect x="449.64" y="450.33" width="20.84" height="16.70" fill="#230000"/>
<rect x="470.48" y="450.33" width="20.84" height="16.70" fill="#ff0000"/>
<rect x="366.27" y="467.03" width="20.84" height="16.70" fill="#000028"/>
<rect x="387.12" y="467.03" width="20.84" height="16.70" fill="#460000"/>
<rect x="407.96" y="467.03" width="20.84" height="16.70" fill="#960000"/>
<rect x="428.80" y="467.03" width="20.84" height="16.70" fill="#000028"/>
<rect x="449.64" y="467.03" width="20.84" height="16.70" fill="#00000a"/>
<rect x="470.48" y="467.03" width="20.84" height="16.70" fill="#00005a"/>
<path d="M366.27 299.30V484.50M387.12 299.30V484.50M407.96 299.30V484.50M428.80 299.30V484.50M449.64 299.30V484.50M470.48 299.30V484.50M491.33 299.30V484.50M365.50 300.07H492.10M365.50 316.77H492.10M365.50 333.47H492.10M365.50 350.16H492.10M365.50 366.86H492.10M365.50 383.55H492.10M365.50 400.25H492.10M365.50 416.94H492.10M365.50 433.64H492.10M365.50 450.33H492.10M365.50 467.03H492.10M365.50 483.73H492.10" stroke="#000" stroke-width="1.55" fill="none"/>
<text x="363.30" y="313.02" text-anchor="end" font-size="14" font-family="Liberation Sans, sans-serif" fill="#1a1a1a" stroke="#1a1a1a" stroke-width="0.2">1</text>
<text x="363.30" y="329.72" text-anchor="end" font-size="14" font-family="Liberation Sans, sans-serif" fill="#1a1a1a" stroke="#1a1a1a" stroke-width="0.2">2</text>
<text x="363.30" y="346.41" text-anchor="end" font-size="14" font-family="Liberation Sans, sans-serif" fill="#1a1a1a" stroke="#1a1a1a" stroke-width="0.2">3</text>
<text x="363.30" y="363.11" text-anchor="end" font-size="14" font-family="Liberation Sans, sans-serif" fill="#1a1a1a" stroke="#1a1a1a" stroke-width="0.2">4</text>
<text x="363.30" y="379.80" text-anchor="end" font-size="14" font-family="Liberation Sans, sans-serif" fill="#1a1a1a" stroke="#1a1a1a" stroke-width="0.2">5</text>
<text x="363.30" y="396.50" text-anchor="end" font-size="14" font-family="Liberation Sans, sans-serif" fill="#1a1a1a" stroke="#1a1a1a" stroke-width="0.2">6</text>
<text x="363.30" y="413.20" text-anchor="end" font-size="14" font-family="Liberation Sans, sans-serif" fill="#1a1a1a" stroke="#1a1a1a" stroke-width="0.2">7</text>
<text x="363.30" y="429.89" text-anchor="end" font-size="14" font-family="Liberation Sans, sans-serif" fill="#1a1a1a" stroke="#1a1a1a" stroke-width="0.2">8</text>
<text x="363.30" y="446.59" text-anchor="end" font-size="14" font-family="Liberation Sans, sans-serif" fill="#1a1a1a" stroke="#1a1a1a" stroke-width="0.2">9</text>
<text x="363.30" y="463.28" text-anchor="end" font-size="14" font-family="Liberation Sans, sans-serif" fill="#1a1a1a" stroke="#1a1a1a" stroke-width="0.2">10</text>
<text x="363.30" y="479.98" text-anchor="end" font-size="14" font-family="Liberation Sans, sans-serif" fill="#1a1a1a" stroke="#1a1a1a" stroke-width="0.2">11</text>
<rect x="533.07" y="99.88" width="20.89" height="16.33" fill="#ff0000"/>
<rect x="553.97" y="99.88" width="20.89" height="16.33" fill="#000000"/>
<rect x="574.86" y="99.88" width="20.89" height="16.33" fill="#0000a0"/>
<rect x="595.75" y="99.88" width="20.89" height="16.33" fill="#0000fa"/>
<rect x="616.64" y="99.88" width="20.89" height="16.33" fill="#0000fa"/>
<rect x="637.53" y="99.88" width="20.89" height="16.33" fill="#00005a"/>
<rect x="533.07" y="116.20" width="20.89" height="16.33" fill="#ff0000"/>
<rect x="553.97" y="116.20" width="20.89" height="16.33" fill="#ff0000"/>
<rect x="574.86" y="116.20" width="20.89" height="16.33" fill="#0000ff"/>
<rect x="595.75" y="116.20" width="20.89" height="16.33" fill="#00000f"/>
<rect x="616.64" y="116.20" width="20.89" height="16.33" fill="#000019"/>
<rect x="637.53" y="116.20" width="20.89" height="16.33" fill="#2d0000"/>
<path d="M533.07 99.10V133.30M553.97 99.10V133.30M574.86 99.10V133.30M595.75 99.10V133.30M616.64 99.10V133.30M637.53 99.10V133.30M658.43 99.10V133.30M532.30 99.88H659.20M532.30 116.20H659.20M532.30 132.53H659.20" stroke="#000" stroke-width="1.55" fill="none"/>
<text x="530.10" y="112.64" text-anchor="end" font-size="14" font-family="Liberation Sans, sans-serif" fill="#1a1a1a" stroke="#1a1a1a" stroke-width="0.2">1</text>
<text x="530.10" y="128.96" text-anchor="end" font-size="14" font-family="Liberation Sans, sans-serif" fill="#1a1a1a" stroke="#1a1a1a" stroke-width="0.2">2</text>
<rect x="533.07" y="150.08" width="20.89" height="16.32" fill="#0000ff"/>
<rect x="553.97" y="150.08" width="20.89" height="16.32" fill="#0000ff"/>
<rect x="574.86" y="150.08" width="20.89" height="16.32" fill="#ff0000"/>
<rect x="595.75" y="150.08" width="20.89" height="16.32" fill="#ff0000"/>
<rect x="616.64" y="150.08" width="20.89" height="16.32" fill="#ff0000"/>
<rect x="637.53" y="150.08" width="20.89" height="16.32" fill="#ff0000"/>
<rect x="533.07" y="166.40" width="20.89" height="16.32" fill="#ff0000"/>
<rect x="553.97" y="166.40" width="20.89" height="16.32" fill="#000032"/>
<rect x="574.86" y="166.40" width="20.89" height="16.32" fill="#8c0000"/>
<rect x="595.75" y="166.40" width="20.89" height="16.32" fill="#1e0000"/>
<rect x="616.64" y="166.40" width="20.89" height="16.32" fill="#960000"/>
<rect x="637.53" y="166.40" width="20.89" height="16.32" fill="#0000ff"/>
<path d="M533.07 149.30V183.50M553.97 149.30V183.50M574.86 149.30V183.50M595.75 149.30V183.50M616.64 149.30V183.50M637.53 149.30V183.50M658.43 149.30V183.50M532.30 150.08H659.20M532.30 166.40H659.20M532.30 182.72H659.20" stroke="#000" stroke-width="1.55" fill="none"/>
<text x="530.10" y="162.84" text-anchor="end" font-size="14" font-family="Liberation Sans, sans-serif" fill="#1a1a1a" stroke="#1a1a1a" stroke-width="0.2">1</text>
<text x="530.10" y="179.16" text-anchor="end" font-size="14" font-family="Liberation Sans, sans-serif" fill="#1a1a1a" stroke="#1a1a1a" stroke-width="0.2">2</text>
<text transform="translate(45.60 97.0) rotate(-90)" x="0" y="0" font-size="15.4" textLength="47.9" lengthAdjust="spacingAndGlyphs" font-family="Liberation Sans, sans-serif" fill="#000" stroke="#000" stroke-width="0.25">MMP-2</text>
<text transform="translate(66.48 97.0) rotate(-90)" x="0" y="0" font-size="15.4" textLength="47.9" lengthAdjust="spacingAndGlyphs" font-family="Liberation Sans, sans-serif" fill="#000" stroke="#000" stroke-width="0.25">MMP-9</text>
<text transform="translate(87.36 97.0) rotate(-90)" x="0" y="0" font-size="15.4" textLength="45.6" lengthAdjust="spacingAndGlyphs" font-family="Liberation Sans, sans-serif" fill="#000" stroke="#000" stroke-width="0.25">TIMP-1</text>
<text transform="translate(108.24 97.0) rotate(-90)" x="0" y="0" font-size="15.4" textLength="45.6" lengthAdjust="spacingAndGlyphs" font-family="Liberation Sans, sans-serif" fill="#000" stroke="#000" stroke-width="0.25">TIMP-2</text>
<text transform="translate(129.12 97.0) rotate(-90)" x="0" y="0" font-size="15.4" textLength="45.6" lengthAdjust="spacingAndGlyphs" font-family="Liberation Sans, sans-serif" fill="#000" stroke="#000" stroke-width="0.25">TIMP-3</text>
<text transform="translate(150.00 97.0) rotate(-90)" x="0" y="0" font-size="15.4" textLength="45.6" lengthAdjust="spacingAndGlyphs" font-family="Liberation Sans, sans-serif" fill="#000" stroke="#000" stroke-width="0.25">TIMP-4</text>
<text transform="translate(214.90 97.0) rotate(-90)" x="0" y="0" font-size="15.4" textLength="47.9" lengthAdjust="spacingAndGlyphs" font-family="Liberation Sans, sans-serif" fill="#000" stroke="#000" stroke-width="0.25">MMP-2</text>
<text transform="translate(235.78 97.0) rotate(-90)" x="0" y="0" font-size="15.4" textLength="47.9" lengthAdjust="spacingAndGlyphs" font-family="Liberation Sans, sans-serif" fill="#000" stroke="#000" stroke-width="0.25">MMP-9</text>
<text transform="translate(256.66 97.0) rotate(-90)" x="0" y="0" font-size="15.4" textLength="45.6" lengthAdjust="spacingAndGlyphs" font-family="Liberation Sans, sans-serif" fill="#000" stroke="#000" stroke-width="0.25">TIMP-1</text>
<text transform="translate(277.54 97.0) rotate(-90)" x="0" y="0" font-size="15.4" textLength="45.6" lengthAdjust="spacingAndGlyphs" font-family="Liberation Sans, sans-serif" fill="#000" stroke="#000" stroke-width="0.25">TIMP-2</text>
<text transform="translate(298.42 97.0) rotate(-90)" x="0" y="0" font-size="15.4" textLength="45.6" lengthAdjust="spacingAndGlyphs" font-family="Liberation Sans, sans-serif" fill="#000" stroke="#000" stroke-width="0.25">TIMP-3</text>
<text transform="translate(319.30 97.0) rotate(-90)" x="0" y="0" font-size="15.4" textLength="45.6" lengthAdjust="spacingAndGlyphs" font-family="Liberation Sans, sans-serif" fill="#000" stroke="#000" stroke-width="0.25">TIMP-4</text>
<text transform="translate(384.40 97.0) rotate(-90)" x="0" y="0" font-size="15.4" textLength="47.9" lengthAdjust="spacingAndGlyphs" font-family="Liberation Sans, sans-serif" fill="#000" stroke="#000" stroke-width="0.25">MMP-2</text>
<text transform="translate(405.28 97.0) rotate(-90)" x="0" y="0" font-size="15.4" textLength="47.9" lengthAdjust="spacingAndGlyphs" font-family="Liberation Sans, sans-serif" fill="#000" stroke="#000" stroke-width="0.25">MMP-9</text>
<text transform="translate(426.16 97.0) rotate(-90)" x="0" y="0" font-size="15.4" textLength="45.6" lengthAdjust="spacingAndGlyphs" font-family="Liberation Sans, sans-serif" fill="#000" stroke="#000" stroke-width="0.25">TIMP-1</text>
<text transform="translate(447.04 97.0) rotate(-90)" x="0" y="0" font-size="15.4" textLength="45.6" lengthAdjust="spacingAndGlyphs" font-family="Liberation Sans, sans-serif" fill="#000" stroke="#000" stroke-width="0.25">TIMP-2</text>
<text transform="translate(467.92 97.0) rotate(-90)" x="0" y="0" font-size="15.4" textLength="45.6" lengthAdjust="spacingAndGlyphs" font-family="Liberation Sans, sans-serif" fill="#000" stroke="#000" stroke-width="0.25">TIMP-3</text>
<text transform="translate(488.80 97.0) rotate(-90)" x="0" y="0" font-size="15.4" textLength="45.6" lengthAdjust="spacingAndGlyphs" font-family="Liberation Sans, sans-serif" fill="#000" stroke="#000" stroke-width="0.25">TIMP-4</text>
<text transform="translate(551.60 97.0) rotate(-90)" x="0" y="0" font-size="15.4" textLength="47.9" lengthAdjust="spacingAndGlyphs" font-family="Liberation Sans, sans-serif" fill="#000" stroke="#000" stroke-width="0.25">MMP-2</text>
<text transform="translate(572.48 97.0) rotate(-90)" x="0" y="0" font-size="15.4" textLength="47.9" lengthAdjust="spacingAndGlyphs" font-family="Liberation Sans, sans-serif" fill="#000" stroke="#000" stroke-width="0.25">MMP-9</text>
<text transform="translate(593.36 97.0) rotate(-90)" x="0" y="0" font-size="15.4" textLength="45.6" lengthAdjust="spacingAndGlyphs" font-family="Liberation Sans, sans-serif" fill="#000" stroke="#000" stroke-width="0.25">TIMP-1</text>
<text transform="translate(614.24 97.0) rotate(-90)" x="0" y="0" font-size="15.4" textLength="45.6" lengthAdjust="spacingAndGlyphs" font-family="Liberation Sans, sans-serif" fill="#000" stroke="#000" stroke-width="0.25">TIMP-2</text>
<text transform="translate(635.12 97.0) rotate(-90)" x="0" y="0" font-size="15.4" textLength="45.6" lengthAdjust="spacingAndGlyphs" font-family="Liberation Sans, sans-serif" fill="#000" stroke="#000" stroke-width="0.25">TIMP-3</text>
<text transform="translate(656.00 97.0) rotate(-90)" x="0" y="0" font-size="15.4" textLength="45.6" lengthAdjust="spacingAndGlyphs" font-family="Liberation Sans, sans-serif" fill="#000" stroke="#000" stroke-width="0.25">TIMP-4</text>
<text x="29.20" y="14.0" font-size="15" textLength="121.6" lengthAdjust="spacingAndGlyphs" font-family="Liberation Sans, sans-serif" fill="#111">Non-infected (NI)</text>
<text x="183.90" y="14.0" font-size="15" textLength="147.7" lengthAdjust="spacingAndGlyphs" font-family="Liberation Sans, sans-serif" fill="#111">Indeterminated (IND)</text>
<text x="373.30" y="14.0" font-size="15" textLength="108.9" lengthAdjust="spacingAndGlyphs" font-family="Liberation Sans, sans-serif" fill="#111">Cardiac (CARD)</text>
<text x="546.20" y="14.0" font-size="15" textLength="98.2" lengthAdjust="spacingAndGlyphs" font-family="Liberation Sans, sans-serif" fill="#111">Evolution (EV)</text>
<defs><linearGradient id="cb" x1="0" x2="1" y1="0" y2="0">
<stop offset="0" stop-color="#ff0000"/><stop offset="0.46" stop-color="#000000"/><stop offset="0.54" stop-color="#000000"/><stop offset="1" stop-color="#0000ff"/>
</linearGradient></defs>
<rect x="7.2" y="651.1" width="671.7" height="17.1" fill="url(#cb)" stroke="#000" stroke-width="1.2"/>
<path d="M6.6 634.1V684.6M342.7 634.1V684.6M679.4 634.1V684.6" stroke="#1a1a1a" stroke-width="1.35"/>
<text x="2.3" y="708.6" font-size="23.6" textLength="43.7" lengthAdjust="spacingAndGlyphs" font-family="Liberation Sans, sans-serif" fill="#000">Low</text>
<text x="2.1" y="736.6" font-size="23.6" textLength="105.3" lengthAdjust="spacingAndGlyphs" font-family="Liberation Sans, sans-serif" fill="#000">producers</text>
<text x="303.5" y="716.5" font-size="23.6" textLength="78.5" lengthAdjust="spacingAndGlyphs" font-family="Liberation Sans, sans-serif" fill="#000">Median</text>
<text x="624.7" y="708.6" font-size="23.6" textLength="49.5" lengthAdjust="spacingAndGlyphs" font-family="Liberation Sans, sans-serif" fill="#000">High</text>
<text x="576" y="736.6" font-size="23.6" textLength="104.6" lengthAdjust="spacingAndGlyphs" font-family="Liberation Sans, sans-serif" fill="#000">producers</text>
</svg>
</body></html>
